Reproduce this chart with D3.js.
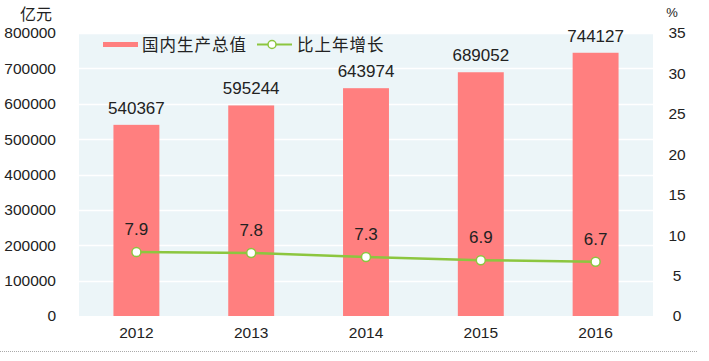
<!DOCTYPE html>
<html><head><meta charset="utf-8">
<script src="https://cdn.jsdelivr.net/npm/d3@7"></script>
<style>body{margin:0;background:#fff;}svg{display:block;font-family:"Liberation Sans",Arial,sans-serif;}</style>
</head><body><svg id="c" width="709" height="361"></svg>
<script>
const years = ["2012","2013","2014","2015","2016"];
const gdp = [540367, 595244, 643974, 689052, 744127];
const growth = [7.9, 7.8, 7.3, 6.9, 6.7];
const leftTicks = [0,100000,200000,300000,400000,500000,600000,700000,800000];
const rightTicks = [0,5,10,15,20,25,30,35];
const seriesNames = ["国内生产总值","比上年增长"];

const svg = d3.select("#c");
const L=79, R=653, T=33, B=316;
const x = d3.scaleBand().domain(years).range([L,R]).paddingInner(0.6).paddingOuter(0.3);
const yL = d3.scaleLinear().domain([0,800000]).range([B,T]);
const yR = d3.scaleLinear().domain([0,35]).range([B,T]);

svg.append("rect").attr("x",L).attr("y",T).attr("width",R-L).attr("height",B-T).attr("fill","#ECF5F8");
svg.append("g").selectAll("line").data(leftTicks.slice(1)).join("line")
  .attr("x1",L).attr("x2",R).attr("y1",d=>Math.round(yL(d))+0.5).attr("y2",d=>Math.round(yL(d))+0.5)
  .attr("stroke","#fff").attr("stroke-width",1.5);

// left axis
const ga = svg.append("g").attr("transform",`translate(${L},0)`)
  .call(d3.axisLeft(yL).tickValues(leftTicks).tickFormat(d=>d).tickSize(0).tickPadding(23));
ga.select(".domain").remove();
ga.selectAll("text").attr("font-size",15.5).attr("fill","#222");
// right axis
const gr = svg.append("g").attr("transform",`translate(${R},0)`)
  .call(d3.axisRight(yR).tickValues(rightTicks).tickSize(0).tickPadding(24));
gr.select(".domain").remove();
gr.selectAll("text").attr("font-size",15.5).attr("fill","#222").attr("text-anchor","middle");
// bottom axis
const gb = svg.append("g").attr("transform",`translate(0,${B})`)
  .call(d3.axisBottom(x).tickSize(0).tickPadding(11));
gb.select(".domain").remove();
gb.selectAll("text").attr("font-size",15.5).attr("fill","#222");

svg.append("text").attr("x",36).attr("y",20).attr("text-anchor","middle").attr("font-size",16)
  .attr("font-family","Noto Sans CJK SC").attr("fill","#222").text("亿元");
svg.append("text").attr("x",672).attr("y",17).attr("text-anchor","middle").attr("font-size",13).attr("fill","#222").text("%");

// bars
svg.append("g").selectAll("rect").data(gdp).join("rect")
  .attr("x",(d,i)=>x(years[i])).attr("width",x.bandwidth())
  .attr("y",d=>yL(d)).attr("height",d=>B-yL(d)).attr("fill","#FF7F7F");
svg.append("g").selectAll("text").data(gdp).join("text")
  .attr("x",(d,i)=>x(years[i])+x.bandwidth()/2).attr("y",d=>yL(d)-11)
  .attr("text-anchor","middle").attr("font-size",17).attr("fill","#222").text(d=>d);

// line
const cx = i=>x(years[i])+x.bandwidth()/2;
svg.append("path").datum(growth).attr("fill","none").attr("stroke","#8CC63F").attr("stroke-width",2.5)
  .attr("d",d3.line().x((d,i)=>cx(i)).y(d=>yR(d)));
svg.append("g").selectAll("circle").data(growth).join("circle")
  .attr("cx",(d,i)=>cx(i)).attr("cy",d=>yR(d)).attr("r",4.5)
  .attr("fill","#fff").attr("stroke","#8CC63F").attr("stroke-width",1.5);
svg.append("g").selectAll("text").data(growth).join("text")
  .attr("x",(d,i)=>cx(i)).attr("y",d=>yR(d)-17)
  .attr("text-anchor","middle").attr("font-size",17).attr("fill","#222").text(d=>d.toFixed(1));

// legend
const lg = svg.append("g");
lg.append("rect").attr("x",103).attr("y",42).attr("width",35).attr("height",5).attr("fill","#FF7F7F");
lg.append("text").attr("x",142).attr("y",51).attr("font-size",16.5).attr("letter-spacing",1)
  .attr("font-family","Noto Sans CJK SC").attr("fill","#222").text(seriesNames[0]);
lg.append("line").attr("x1",257).attr("x2",292).attr("y1",44.5).attr("y2",44.5).attr("stroke","#8CC63F").attr("stroke-width",2);
lg.append("circle").attr("cx",272).attr("cy",44.5).attr("r",4).attr("fill","#fff").attr("stroke","#8CC63F").attr("stroke-width",1.5);
lg.append("text").attr("x",297).attr("y",51).attr("font-size",16.5).attr("letter-spacing",1)
  .attr("font-family","Noto Sans CJK SC").attr("fill","#222").text(seriesNames[1]);

// dotted footer line
svg.append("line").attr("x1",0).attr("x2",697).attr("y1",351.5).attr("y2",351.5)
  .attr("stroke","#aaa").attr("stroke-dasharray","1,1");
</script></body></html>
